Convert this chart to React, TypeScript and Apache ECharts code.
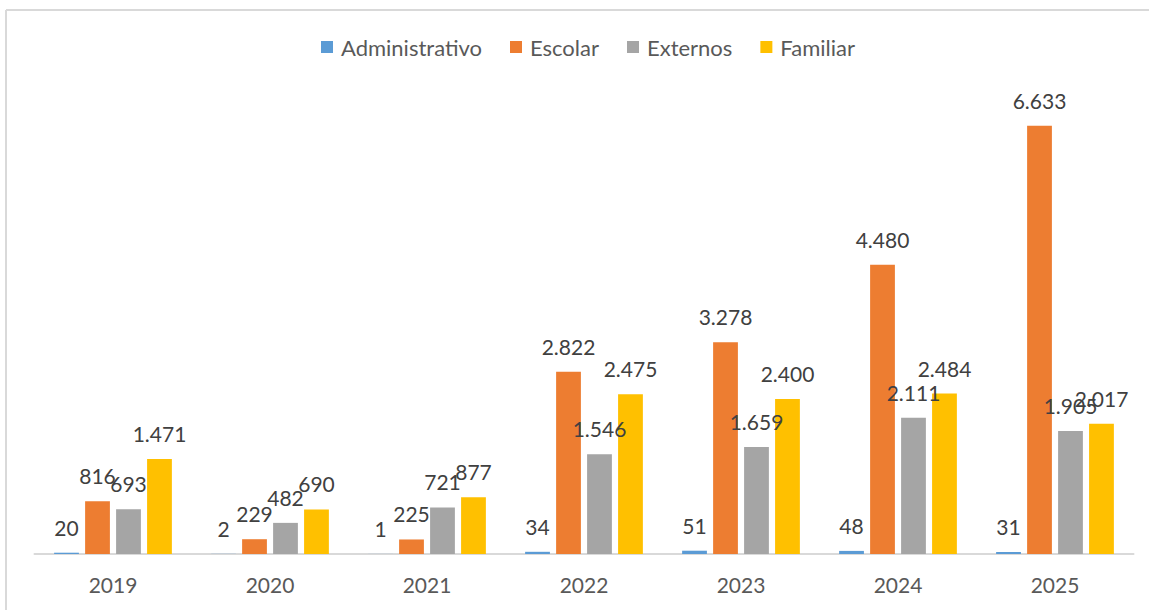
import React, { useEffect, useRef } from "react";
import * as echarts from "echarts";

const years = ["2019", "2020", "2021", "2022", "2023", "2024", "2025"];
const administrativo = [20, 2, 1, 34, 51, 48, 31];
const escolar = [816, 229, 225, 2822, 3278, 4480, 6633];
const externos = [693, 482, 721, 1546, 1659, 2111, 1905];
const familiar = [1471, 690, 877, 2475, 2400, 2484, 2017];

const seriesNames = ["Administrativo", "Escolar", "Externos", "Familiar"];
const seriesColors = ["#5B9BD5", "#ED7D31", "#A5A5A5", "#FFC000"];

const fmt = (v: number) => String(v).replace(/\B(?=(\d{3})+(?!\d))/g, ".");

export default function App() {
  const ref = useRef<HTMLDivElement>(null);
  useEffect(() => {
    if (!ref.current) return;
    const chart = echarts.init(ref.current, undefined, { renderer: "svg" });
    const font = "Lato, 'Open Sans', sans-serif";
    const datasets = [administrativo, escolar, externos, familiar];
    chart.setOption({
      animation: false,
      backgroundColor: "#ffffff",
      textStyle: { fontFamily: font },
      legend: {
        top: 31,
        left: 316,
        icon: "rect",
        itemWidth: 12,
        itemHeight: 12,
        itemGap: 28,
        textStyle: { fontSize: 22, color: "#595959", fontFamily: font, padding: [0, 0, 0, 3] },
        data: seriesNames,
      },
      grid: { left: 34.5, right: 15.5, top: 102, bottom: 56, containLabel: false },
      xAxis: {
        type: "category",
        data: years,
        axisLine: { lineStyle: { color: "#D9D9D9", width: 2 } },
        axisTick: { show: false },
        axisLabel: { fontSize: 21, color: "#595959", margin: 20, fontFamily: font },
      },
      yAxis: {
        type: "value",
        min: 0,
        max: 7000,
        show: false,
        splitLine: { show: false },
      },
      graphic: [
        { type: "line", shape: { x1: 6, y1: 10, x2: 1149, y2: 10 }, style: { stroke: "#D9D9D9", lineWidth: 2 } },
        { type: "line", shape: { x1: 6, y1: 10, x2: 6, y2: 610 }, style: { stroke: "#D9D9D9", lineWidth: 2 } },
      ],
      series: seriesNames.map((name, i) => ({
        name,
        type: "bar",
        data: datasets[i],
        barGap: "25%",
        barCategoryGap: "25%",
        itemStyle: { color: seriesColors[i] },
        label: {
          show: true,
          position: "top",
          distance: 15,
          fontSize: 21,
          color: "#404040",
          fontFamily: font,
          formatter: (p: any) => fmt(p.value),
        },
      })),
    });
    return () => chart.dispose();
  }, []);
  return (
    <div
      ref={ref}
      style={{ position: "fixed", left: 0, top: 0, width: 1149, height: 610 }}
    />
  );
}
